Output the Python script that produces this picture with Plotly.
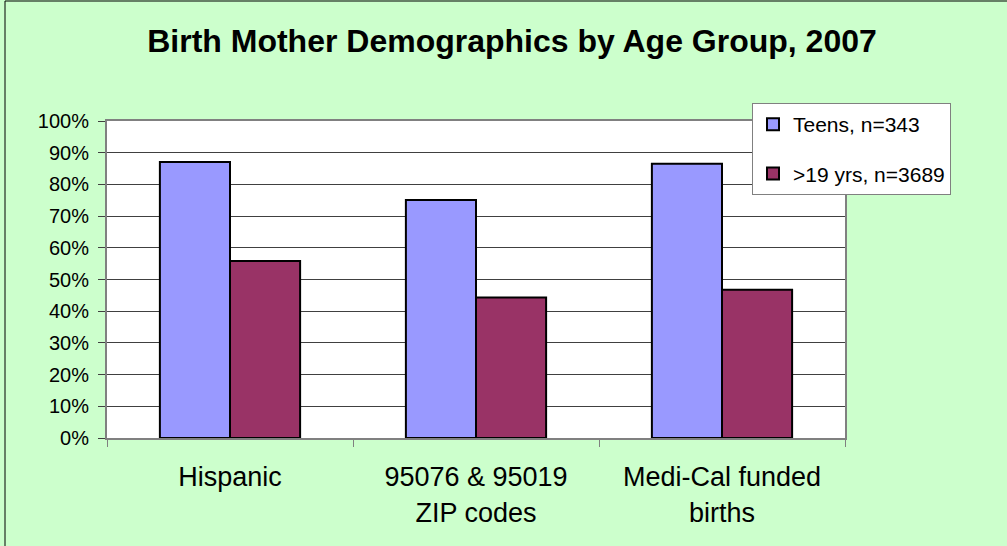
import plotly.graph_objects as go

categories = ["Hispanic", "95076 & 95019<br>ZIP codes", "Medi-Cal funded<br>births"]
teens = [0.871, 0.751, 0.865]
adults = [0.558, 0.443, 0.468]
series_names = ["Teens, n=343", ">19 yrs, n=3689"]
y_ticks = [0, 0.1, 0.2, 0.3, 0.4, 0.5, 0.6, 0.7, 0.8, 0.9, 1.0]

FONT = "Liberation Sans, Arial, sans-serif"

fig = go.Figure()
fig.add_trace(go.Bar(x=categories, y=teens, name=series_names[0], legendgroup="a",
                     marker=dict(color="#9999FF", line=dict(color="black", width=2))))
fig.add_trace(go.Bar(x=categories, y=adults, name=series_names[1], legendgroup="b",
                     marker=dict(color="#993366", line=dict(color="black", width=2))))

L, R, T, B = 107, 162, 121, 108
W, H = 1007, 546
pw, ph = W - L - R, H - T - B

def px(x):
    return (x - L) / pw

def py(y):
    return (H - B - y) / ph

fig.update_layout(
    width=W, height=H,
    margin=dict(l=L, r=R, t=T, b=B),
    paper_bgcolor="#CCFFCC",
    plot_bgcolor="white",
    barmode="group",
    bargap=0.43,
    bargroupgap=0,
    font=dict(family=FONT, color="black"),
    title=dict(text="<b>Birth Mother Demographics by Age Group, 2007</b>",
               font=dict(size=32, family=FONT, color="black"),
               x=512 / W, xanchor="center", y=1 - 41 / H, yanchor="middle"),
    legend=dict(x=px(752), y=py(103), xanchor="left", yanchor="top",
                bgcolor="white", bordercolor="#808080", borderwidth=1,
                font=dict(size=21, family=FONT), tracegroupgap=19,
                entrywidth=152, itemsizing="constant"),
    showlegend=True,
)
fig.update_xaxes(showline=True, linecolor="#808080", linewidth=2, mirror=True,
                 ticks="outside", tickson="boundaries", ticklen=7, tickcolor="#808080",
                 ticklabelstandoff=14,
                 tickfont=dict(size=27, family=FONT, color="black"), showgrid=False)
fig.update_yaxes(range=[0, 1], tickvals=y_ticks, tickformat=".0%",
                 showline=True, linecolor="#808080", linewidth=2, mirror=True,
                 ticks="outside", ticklen=7, tickcolor="#404040",
                 ticklabelstandoff=5,
                 showgrid=True, gridcolor="#404040", gridwidth=1,
                 tickfont=dict(size=20, family=FONT, color="black"), zeroline=False)

fig.add_shape(type="rect", xref="paper", yref="paper",
              x0=px(5), x1=px(W + 5), y0=py(H + 5), y1=py(1),
              line=dict(color="black", width=1), fillcolor="rgba(0,0,0,0)", layer="below")

fig.write_html("out.html", config={"displayModeBar": False},
               post_script="document.body.style.margin='0';")
